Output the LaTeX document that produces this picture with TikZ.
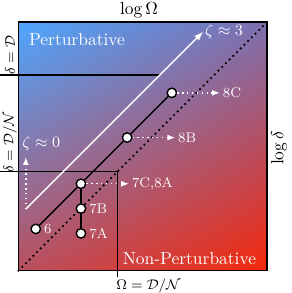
\documentclass[tikz,border=0pt]{standalone}
\usepackage{amsmath}
\usepackage{tikz}
\usetikzlibrary{arrows.meta,positioning,calc,shadings}
\definecolor{pertblue}{HTML}{4DA6FF}
\definecolor{nonpertred}{HTML}{F5280A}
\definecolor{mixtop}{HTML}{7D70AF}
\definecolor{mixbottom}{HTML}{B9505F}

\begin{document}
\begin{tikzpicture}[
  runpt/.style={circle,draw=black,fill=white,thick,minimum size=0.19cm,inner sep=0pt},
  runlabel/.style={font=\footnotesize,text=white,inner sep=1.5pt},
  jump/.style={-{Latex[length=1.6mm]},white,thick,dotted}]
\useasboundingbox (-0.36,-0.44) rectangle (5.50,5.46);
\node[draw,thick,shade,minimum size=5cm,inner sep=0pt,anchor=south west,
  upper left=pertblue,upper right=mixtop,lower left=mixbottom,lower right=nonpertred] (plane) at (0,0) {};
% reference lines
\coordinate (dD) at (-0.36,3.95);
\coordinate (dDend) at (2.86,3.95);
\coordinate (dN) at (-0.36,2);
\coordinate (corner) at (2,2);
\coordinate (oN) at (2,-0.12);
\draw[semithick] (dD) -- (dDend);
\draw[semithick] (dN) -- (corner) -- (oN);
\draw[black,line width=1pt,dotted] (plane.south west) -- (plane.north east);
\node[rotate=90,font=\footnotesize] (LdD) at (-0.16,4.35) {$\delta=\mathcal{D}$};
\node[rotate=90,font=\footnotesize] (LdN) at (-0.16,2.6) {$\delta=\mathcal{D}/\mathcal{N}$};
\node[anchor=north west,font=\footnotesize,inner sep=1pt] (LoN) at ($(oN)+(-0.06,0)$) {$\Omega=\mathcal{D}/\mathcal{N}$};
% zeta lines
\coordinate (zeta0) at (0.16,1.25);
\coordinate (zeta3) at (3.73,4.82);
\coordinate (zeta0up) at (0.16,2.30);
\draw[white,thick,-{Latex[length=1.8mm]}] (zeta0) -- (zeta3);
\node[anchor=west,text=white,font=\small,inner sep=1pt] (Z3) at (zeta3) {$\zeta\approx3$};
\draw[jump] (zeta0) -- (zeta0up);
\node[text=white,font=\small] (Z0) at (0.47,2.56) {$\zeta\approx0$};
% runs
\foreach \name/\x/\y in {6/0.36/0.85, 7A/1.27/0.76, 7B/1.27/1.26, 7C/1.27/1.76, 8B/2.20/2.69, 8C/3.10/3.59}
  \node[runpt] (P\name) at (\x,\y) {};
\draw[thick] (P6) -- (P7C) -- (P8B) -- (P8C);
\draw[thick] (P7C) -- (P7B) -- (P7A);
\foreach \name in {6,7A,7B}
  \node[runlabel,right=0pt of P\name] (L\name) {\name};
\foreach \name/\txt in {7C/{7C,8A},8B/8B,8C/8C}{
  \node[runlabel,right=0.86cm of P\name] (S\name) {\txt};
  \draw[jump] (P\name) -- (S\name);
}
% regions and axes
\node[anchor=west,text=white] (pert) at (0.1,4.66) {Perturbative};
\node[anchor=east,text=white] (npert) at (4.92,0.26) {Non-Perturbative};
\node (logO) at (2.44,5.26) {$\log\Omega$};
\node[rotate=90] (logd) at (5.26,2.48) {$\log\delta$};
\end{tikzpicture}
\end{document}
